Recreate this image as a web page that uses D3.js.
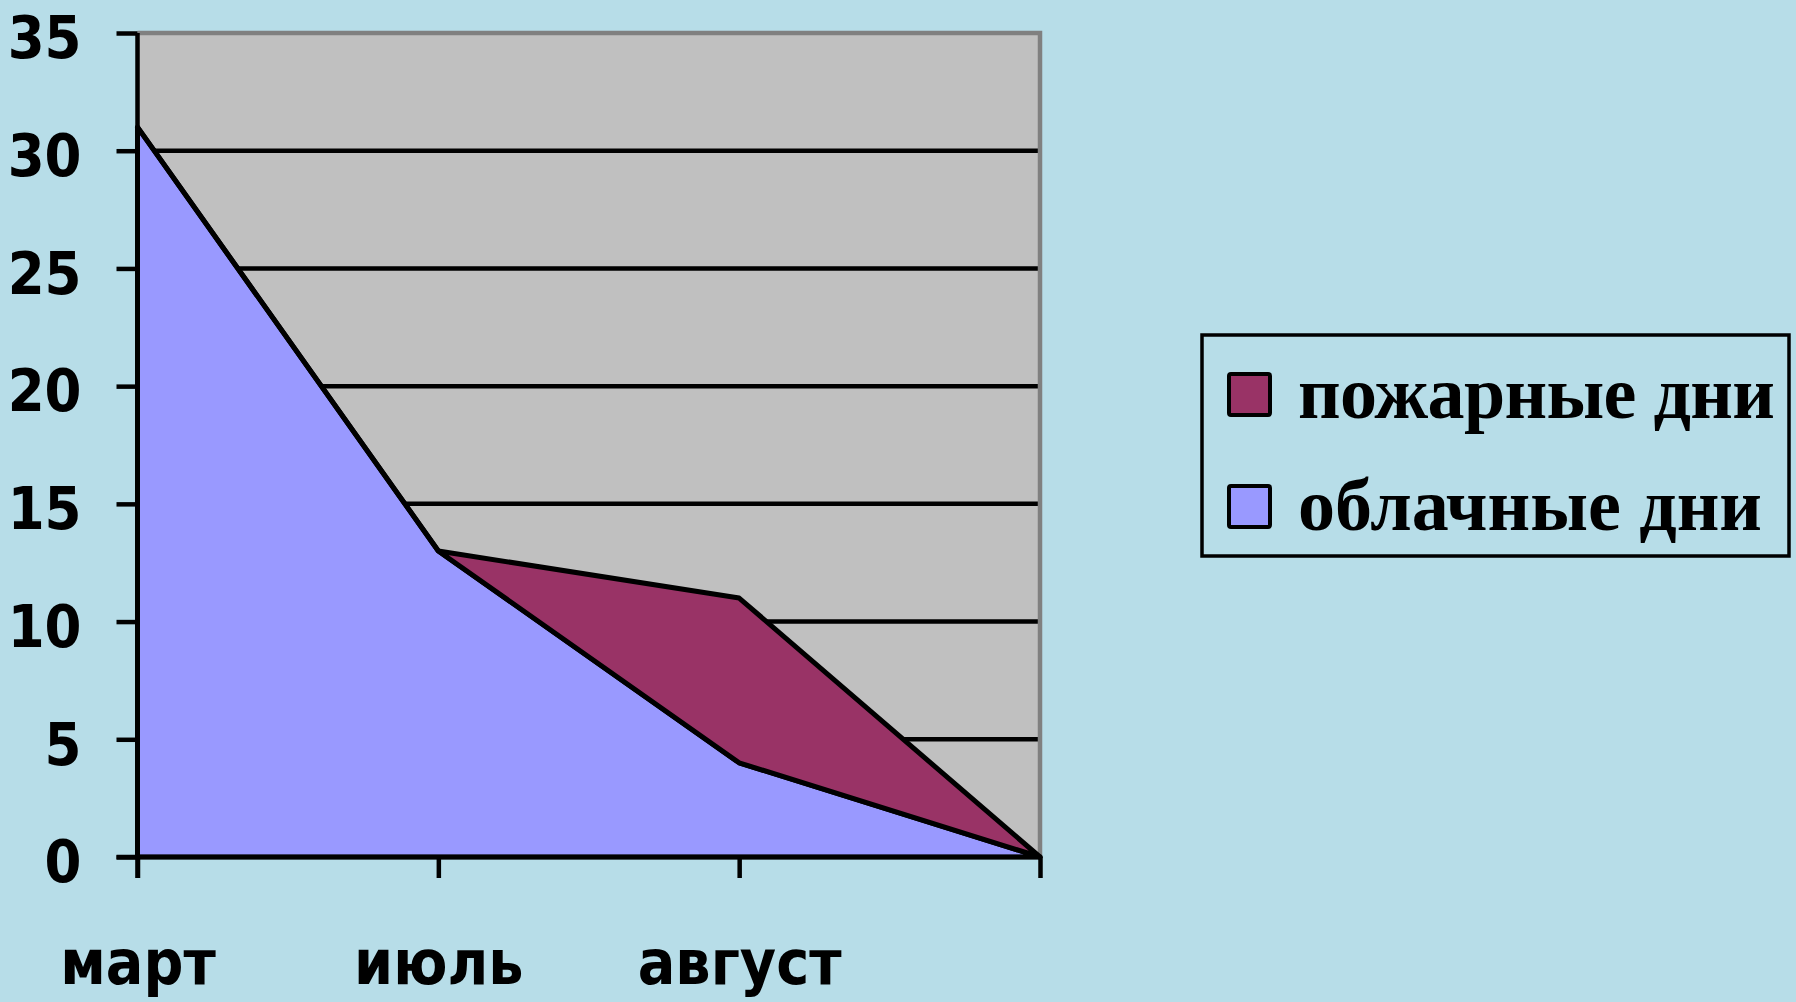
<!DOCTYPE html>
<html><head><meta charset="utf-8">
<script src="https://cdn.jsdelivr.net/npm/d3@7"></script>
<style>
html,body{margin:0;padding:0;background:#b7dde8;overflow:hidden}
svg{display:block}
</style></head>
<body>
<svg id="chart" width="1796" height="1002"></svg>
<script>
const categories = ["март", "июль", "август", ""];
const cloudyDays = [31, 13, 4, 0];
const fireDays = [0, 0, 7, 0];
const yTicks = [0, 5, 10, 15, 20, 25, 30, 35];
const seriesNames = ["облачные дни", "пожарные дни"];
const seriesColors = ["#9999ff", "#993366"];

(function () {
const svg = d3.select("#chart");
const W = 1796, H = 1002;
const pL = 137.5, pR = 1040, pT = 33, pB = 857;

const x = d3.scalePoint().domain(d3.range(categories.length)).range([pL, pR]);
const y = d3.scaleLinear().domain([0, 35]).range([pB, pT]);

svg.append("rect").attr("width", W).attr("height", H).attr("fill", "#b7dde8");

// plot area
svg.append("rect").attr("x", pL).attr("y", pT).attr("width", pR - pL).attr("height", pB - pT)
  .attr("fill", "#c0c0c0");

// gridlines
svg.append("g").selectAll("line").data(yTicks.filter(t => t > 0 && t < 35)).join("line")
  .attr("x1", pL).attr("x2", pR).attr("y1", d => y(d)).attr("y2", d => y(d))
  .attr("stroke", "#000").attr("stroke-width", 4.5);

// plot border top/right (gray)
svg.append("path").attr("d", `M${pL},${y(35)}H${pR}V${pB}`)
  .attr("fill", "none").attr("stroke", "#808080").attr("stroke-width", 4.5);

// stacked data
const table = categories.map((c, i) => ({ i, cloudy: cloudyDays[i], fire: fireDays[i] }));
const stacked = d3.stack().keys(["cloudy", "fire"])(table);

const area = d3.area().x(d => x(d.data.i)).y0(d => y(d[0])).y1(d => y(d[1]));

svg.append("g").selectAll("path").data(stacked).join("path")
  .attr("d", area)
  .attr("fill", (d, i) => seriesColors[i])
  .attr("stroke", "#000").attr("stroke-width", 5).attr("stroke-linejoin", "round");

// axes
const yAxis = d3.axisLeft(y).tickValues(yTicks).tickSize(21).tickPadding(35).tickFormat(d3.format("d"));
const gy = svg.append("g").attr("transform", `translate(${pL},0)`).call(yAxis);
gy.select(".domain").remove();
gy.selectAll(".tick line").attr("stroke", "#000").attr("stroke-width", 4.5);
gy.selectAll(".tick text").attr("font-family", "'DejaVu Sans'").attr("font-stretch", "condensed")
  .attr("font-weight", "bold").attr("font-size", 59).attr("fill", "#000").attr("dy", "0.42em");

const xAxis = d3.axisBottom(x).tickSize(21).tickPadding(62).tickFormat(i => categories[i]);
const gx = svg.append("g").attr("transform", `translate(0,${pB})`).call(xAxis);
gx.select(".domain").remove();
gx.selectAll(".tick line").attr("stroke", "#000").attr("stroke-width", 4.5);
gx.selectAll(".tick text").attr("font-family", "'DejaVu Sans'").attr("font-stretch", "condensed")
  .attr("font-weight", "bold").attr("font-size", 62).attr("fill", "#000").attr("dy", "0.71em");

// axis lines
svg.append("line").attr("x1", pL).attr("x2", pL).attr("y1", pT).attr("y2", pB + 21)
  .attr("stroke", "#000").attr("stroke-width", 4.5);
svg.append("line").attr("x1", pL - 21).attr("x2", pR).attr("y1", pB).attr("y2", pB)
  .attr("stroke", "#000").attr("stroke-width", 4.5);

// legend
const lg = svg.append("g");
lg.append("rect").attr("x", 1202).attr("y", 335).attr("width", 587).attr("height", 221)
  .attr("fill", "none").attr("stroke", "#000").attr("stroke-width", 3.5);
const legendItems = [
  { name: seriesNames[1], color: seriesColors[1], len: 477 },
  { name: seriesNames[0], color: seriesColors[0], len: 464 }
];
const rowY = [395, 507];
legendItems.forEach((it, k) => {
  lg.append("rect").attr("x", 1229).attr("y", rowY[k] - 21).attr("width", 41).attr("height", 41)
    .attr("fill", it.color).attr("stroke", "#000").attr("stroke-width", 4).attr("rx", 2);
  lg.append("text").attr("x", 1298).attr("y", rowY[k] + 23)
    .attr("font-family", "'Liberation Serif'").attr("font-weight", "bold").attr("font-size", 74)
    .attr("textLength", it.len).attr("lengthAdjust", "spacing")
    .attr("fill", "#000").text(it.name);
});
})();
</script>
</body></html>
